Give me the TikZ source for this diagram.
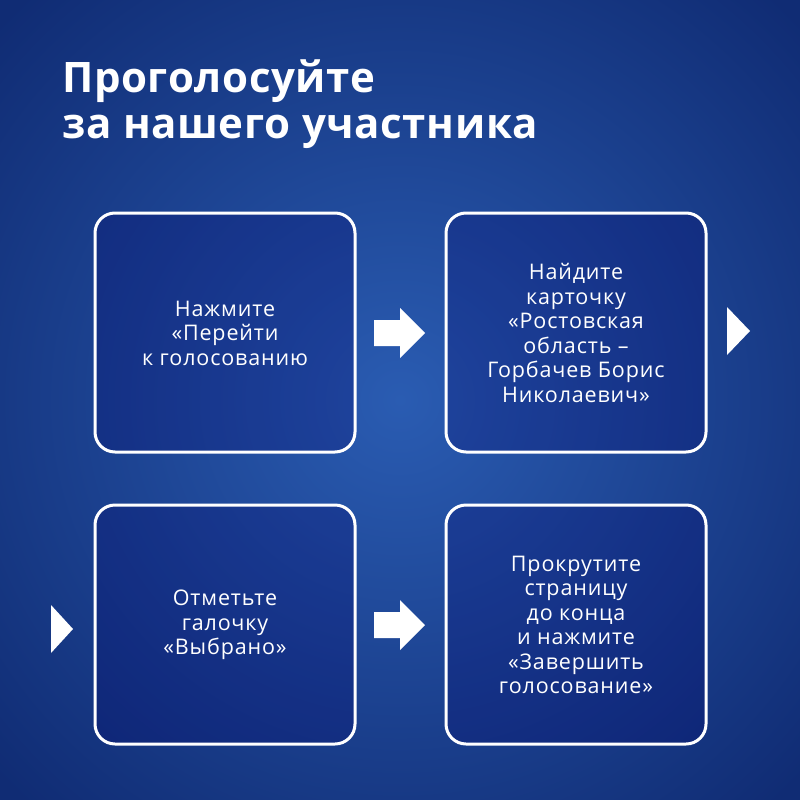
\documentclass[tikz,border=0pt]{standalone}
\usepackage{fontspec}
\setmainfont{Open Sans}[LetterSpace=4]
\newfontfamily\titlefont{Open Sans}[UprightFont={* Bold},LetterSpace=1.5]
\definecolor{bgin}{RGB}{42,92,178}
\definecolor{bgout}{RGB}{16,44,116}
\begin{document}
\begin{tikzpicture}[x=1pt,y=-1pt,
  box/.style={draw=white,line width=3pt,rounded corners=20pt,fill=blue!40!black,fill opacity=0.25,text opacity=1},
  txt/.style={text=white,font=\fontsize{21.5}{24.5}\selectfont,align=center},
  blk/.style={fill=white,draw=none}]
\useasboundingbox (0,0) rectangle (800,800);
\shade[inner color=bgin,outer color=bgout] (-150,-150) rectangle (950,950);
\node[anchor=north west,text=white,align=left,inner sep=0pt,font=\titlefont\fontsize{42}{46}\selectfont] (title) at (62,60) {Проголосуйте\\за нашего участника};
\draw[box] (95,213) rectangle (355,452);
\node[txt] (t1) at (225,333) {Нажмите\\«Перейти\\к голосованию};
\draw[box] (446,213) rectangle (706,452);
\node[txt] (t2) at (576,333) {Найдите\\карточку\\«Ростовская\\область –\\Горбачев Борис\\Николаевич»};
\draw[box] (95,505) rectangle (355,744);
\node[txt] (t3) at (225,625) {Отметьте\\галочку\\«Выбрано»};
\draw[box] (446,505) rectangle (706,744);
\node[txt] (t4) at (576,625) {Прокрутите\\страницу\\до конца\\и нажмите\\«Завершить\\голосование»};
\foreach \y in {333,625}{
 \fill[blk] (374,\y-13) -- (400,\y-13) -- (400,\y-25) -- (425,\y) -- (400,\y+25) -- (400,\y+13) -- (374,\y+13) -- cycle;}
\fill[blk] (727,307) -- (750,331) -- (727,355) -- cycle;
\fill[blk] (51,605) -- (73,629) -- (51,653) -- cycle;
\end{tikzpicture}
\end{document}
